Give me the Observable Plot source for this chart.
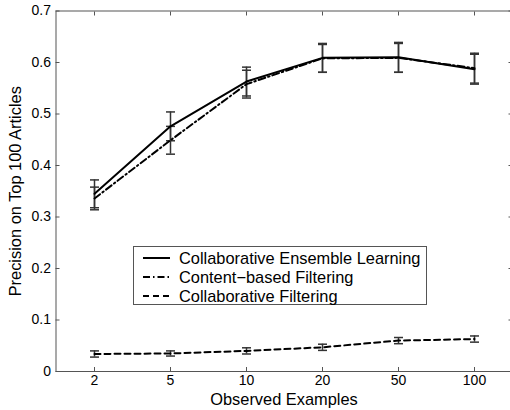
<!DOCTYPE html>
<html>
<head>
<meta charset="utf-8">
<script src="https://cdn.jsdelivr.net/npm/d3@7"></script>
<script src="https://cdn.jsdelivr.net/npm/@observablehq/plot@0.6"></script>
<style>
  html, body { margin: 0; padding: 0; background: #fff; }
  #wrap { position: relative; width: 510px; height: 410px; overflow: hidden; font-family: "Liberation Sans", Arial, Helvetica, sans-serif; }
  #legend { position: absolute; left: 133px; top: 246px; width: 294px; height: 59px; background: #fff; border: 1px solid #555; box-sizing: border-box; }
  .row { position: absolute; left: 0; height: 19px; display: flex; align-items: center; }
  .row svg { margin-left: 9px; margin-right: 9px; }
  .row span { font-size: 16.4px; color: #000; white-space: nowrap; }
</style>
</head>
<body>
<div id="wrap"></div>
<script>
const xLabels = ["2", "5", "10", "20", "50", "100"];
const seriesNames = ["Collaborative Ensemble Learning", "Content\u2212based Filtering", "Collaborative Filtering"];
const celMean = [0.345, 0.476, 0.563, 0.609, 0.610, 0.587];
const celErr  = [0.027, 0.028, 0.028, 0.028, 0.029, 0.029];
const cbfMean = [0.336, 0.449, 0.558, 0.608, 0.609, 0.589];
const cbfErr  = [0.022, 0.027, 0.027, 0.027, 0.028, 0.029];
const cfMean  = [0.034, 0.035, 0.040, 0.047, 0.060, 0.063];
const cfErr   = [0.006, 0.005, 0.006, 0.006, 0.006, 0.006];
const yTicks  = [0, 0.1, 0.2, 0.3, 0.4, 0.5, 0.6, 0.7];
const xTitle = "Observed Examples";
const yTitle = "Precision on Top 100 Articles";

const styles = [
  {dash: null},
  {dash: "7,3,1.5,3"},
  {dash: "6,4"}
];
const means = [celMean, cbfMean, cfMean];
const errs = [celErr, cbfErr, cfErr];
const rows = [];
means.forEach((m, s) => m.forEach((v, i) => rows.push({series: seriesNames[s], s, x: xLabels[i], y: v, e: errs[s][i]})));

const capSymbol = {draw(ctx, size) { const r = Math.sqrt(size / Math.PI); ctx.moveTo(-r, 0); ctx.lineTo(r, 0); }};
const fmt = d => d === 0 ? "0" : d.toFixed(1);
const font = "Liberation Sans, Arial, Helvetica, sans-serif";
const axisColor = "#555";

const marks = [
  Plot.frame({stroke: axisColor, strokeWidth: 1}),
  Plot.axisY({ticks: yTicks, tickSize: 0, tickPadding: 5, tickFormat: fmt, fontSize: 14, label: null}),
  Plot.axisY({ticks: yTicks, tickSize: -4, tickFormat: () => "", label: null, stroke: axisColor}),
  Plot.axisY({anchor: "right", ticks: yTicks, tickSize: -4, tickFormat: () => "", label: null, stroke: axisColor}),
  Plot.axisX({tickSize: 0, tickPadding: 4, fontSize: 14, label: null}),
  Plot.axisX({tickSize: -4, tickFormat: () => "", label: null, stroke: axisColor}),
  Plot.axisX({anchor: "top", tickSize: -4, tickFormat: () => "", label: null, stroke: axisColor}),
  Plot.ruleX(rows, {x: "x", y1: d => d.y - d.e, y2: d => d.y + d.e, stroke: "#333", strokeWidth: 1.5}),
  Plot.dot(rows, {x: "x", y: d => d.y + d.e, symbol: capSymbol, r: 4.5, stroke: "#333", fill: "none", strokeWidth: 1.5}),
  Plot.dot(rows, {x: "x", y: d => d.y - d.e, symbol: capSymbol, r: 4.5, stroke: "#333", fill: "none", strokeWidth: 1.5})
];
[2, 1, 0].forEach(s => {
  marks.push(Plot.line(rows.filter(d => d.s === s), {x: "x", y: "y", stroke: "#000", strokeWidth: 2, strokeDasharray: styles[s].dash}));
});
marks.push(Plot.text([xTitle], {text: d => d, frameAnchor: "bottom", textAnchor: "middle", lineAnchor: "middle", dy: 28, fontSize: 16.4, fill: "#000"}));
marks.push(Plot.text([yTitle], {text: d => d, frameAnchor: "left", textAnchor: "middle", lineAnchor: "middle", rotate: -90, dx: -40, fontSize: 16.4, fill: "#000"}));

const chart = Plot.plot({
  width: 510,
  height: 410,
  marginLeft: 55.5,
  marginRight: -1.5,
  marginTop: 10.5,
  marginBottom: 39,
  style: {fontFamily: font, fontSize: "14px", color: "#000", background: "#fff"},
  x: {type: "point", domain: xLabels, padding: 0.5},
  y: {domain: [0, 0.7]},
  marks
});
const wrap = document.getElementById("wrap");
wrap.appendChild(chart);

// legend
const legend = document.createElement("div");
legend.id = "legend";
seriesNames.forEach((name, s) => {
  const row = document.createElement("div");
  row.className = "row";
  row.style.top = (1.5 + s * 19) + "px";
  const sw = d3.create("svg").attr("width", 27).attr("height", 10);
  sw.append("line").attr("x1", 0).attr("x2", 27).attr("y1", 5).attr("y2", 5)
    .attr("stroke", "#000").attr("stroke-width", 2).attr("stroke-dasharray", styles[s].dash);
  row.appendChild(sw.node());
  const t = document.createElement("span");
  t.textContent = name;
  row.appendChild(t);
  legend.appendChild(row);
});
wrap.appendChild(legend);
</script>
</body>
</html>
